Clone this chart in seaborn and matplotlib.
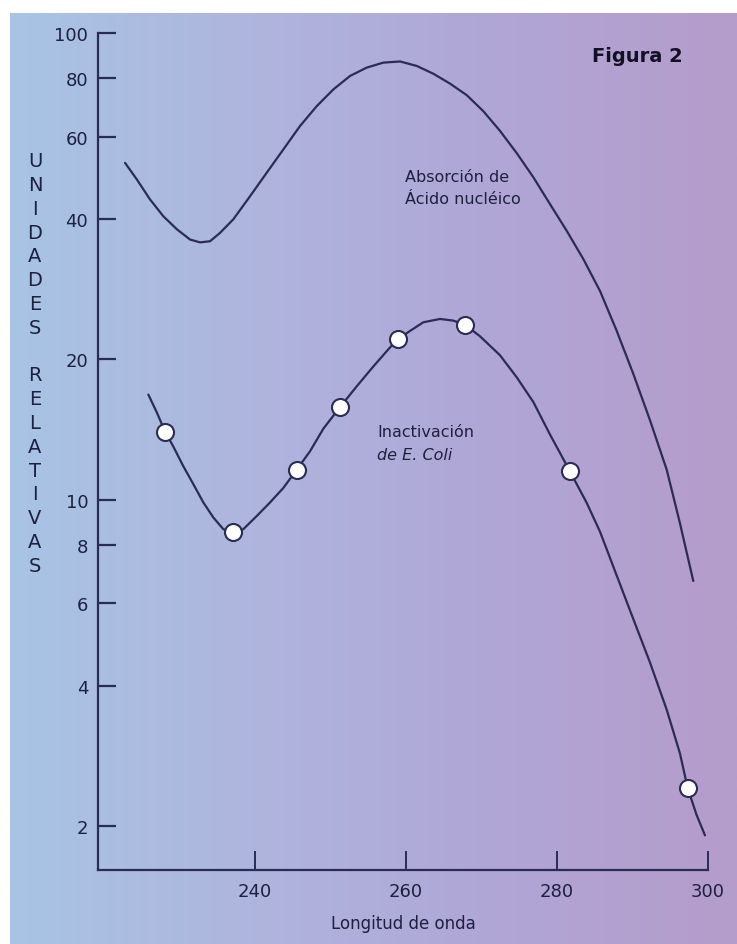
import numpy as np
import pandas as pd
import seaborn as sns
import matplotlib.pyplot as plt
from matplotlib.colors import LinearSegmentedColormap

# absorción de ácido nucleico (curva superior)
abs_x = [222.78, 224.33, 226.09, 227.85, 229.63, 231.39, 232.72, 234.04, 235.36, 237.13,
         239.34, 241.55, 243.75, 245.96, 248.17, 250.37, 252.58, 254.79, 256.99, 259.21,
         261.42, 263.62, 265.83, 268.04, 270.24, 272.45, 274.66, 276.86, 279.07, 281.28,
         283.48, 285.70, 287.91, 290.11, 292.32, 294.53, 296.29, 298.05]
abs_y = [52.7, 48.6, 44.0, 40.5, 38.0, 36.1, 35.6, 35.8, 37.3, 39.9,
         44.7, 50.2, 56.3, 63.2, 69.7, 75.7, 80.9, 84.3, 86.4, 86.9,
         85.0, 81.8, 77.9, 73.6, 68.0, 61.7, 55.3, 49.1, 43.0, 37.7,
         32.8, 28.0, 23.0, 18.6, 14.8, 11.6, 8.9, 6.7]

# inactivación de E. coli (curva inferior)
inact_x = [225.87, 226.98, 228.08, 229.18, 230.50, 231.83, 233.15, 234.48, 235.80, 237.13,
           238.45, 240.23, 241.99, 243.75, 245.52, 247.28, 249.05, 251.26, 253.47, 255.67,
           257.88, 258.98, 260.53, 262.29, 264.50, 266.26, 267.81, 269.80, 272.45, 274.66,
           276.86, 279.07, 281.72, 283.93, 285.70, 287.91, 290.11, 292.32, 294.53, 296.29,
           297.31, 298.50, 299.60]
inact_y = [16.8, 15.4, 14.0, 13.0, 11.8, 10.8, 9.87, 9.16, 8.65, 8.51,
           8.65, 9.23, 9.87, 10.6, 11.6, 12.7, 14.2, 15.8, 17.5, 19.3,
           21.2, 22.1, 23.0, 24.0, 24.4, 24.2, 23.7, 22.4, 20.4, 18.3,
           16.2, 13.8, 11.5, 9.85, 8.54, 6.88, 5.55, 4.48, 3.55, 2.86,
           2.41, 2.11, 1.91]

# puntos medidos
pts_x = [228.08, 237.13, 245.52, 251.26, 258.98, 267.81, 281.72, 297.31]
pts_y = [14.0, 8.51, 11.6, 15.8, 22.1, 23.7, 11.5, 2.41]

x_ticks = [240, 260, 280, 300]
y_ticks = [2, 4, 6, 8, 10, 20, 40, 60, 80, 100]

W, H = 737, 945
ink = "#2a2c55"
txt = "#1e2040"

sns.set_style("ticks")
plt.rcParams['font.family'] = ['DejaVu Sans']

fig = plt.figure(figsize=(W / 100, H / 100), dpi=100)

# fondo degradado azul -> violeta
bg = fig.add_axes([10 / W, 0, (W - 10) / W, (H - 14) / H], zorder=-5)
cmap = LinearSegmentedColormap.from_list(
    "fondo", ["#a8c4e4", "#afb5de", "#b0a6d6", "#b59ccb"])
bg.imshow(np.linspace(0, 1, 256)[None, :], aspect="auto", cmap=cmap,
          extent=[0, 1, 0, 1])
bg.set_axis_off()

ax = fig.add_axes([98 / W, 1 - 871 / H, 610 / W, 837 / H])
ax.set_facecolor("none")

df_abs = pd.DataFrame({"x": abs_x, "y": abs_y})
df_inact = pd.DataFrame({"x": inact_x, "y": inact_y})
df_pts = pd.DataFrame({"x": pts_x, "y": pts_y})

sns.lineplot(data=df_abs, x="x", y="y", ax=ax, color=ink, lw=1.6)
sns.lineplot(data=df_inact, x="x", y="y", ax=ax, color=ink, lw=1.6)
sns.scatterplot(data=df_pts, x="x", y="y", ax=ax, s=150, color="white",
                edgecolor=ink, linewidth=1.5, zorder=5)

ax.set_yscale("log")
ax.set_xlim(219.2, 300)
ax.set_ylim(1.61, 100)
ax.set_xticks(x_ticks)
ax.set_xticklabels([str(v) for v in x_ticks])
ax.set_yticks(y_ticks)
ax.set_yticklabels([str(v) for v in y_ticks])
ax.yaxis.set_minor_locator(plt.NullLocator())

for side in ["top", "right"]:
    ax.spines[side].set_visible(False)
for side in ["left", "bottom"]:
    ax.spines[side].set_color(ink)
    ax.spines[side].set_linewidth(1.6)

ax.tick_params(axis="y", direction="in", length=13, width=1.6, color=ink,
               labelsize=13, labelcolor=txt, pad=7)
ax.tick_params(axis="x", direction="in", length=14, width=1.4, color=ink,
               labelsize=13, labelcolor=txt, pad=9)

ax.set_xlabel("Longitud de onda", fontsize=12, color=txt, labelpad=10)
ax.set_ylabel("")

# etiqueta vertical letra por letra
fig.text(35 / W, 1 - 364 / H, "\n".join("UNIDADES RELATIVAS"),
         ha="center", va="center", fontsize=14, color=txt,
         linespacing=1.32)

fig.text(637 / W, 1 - 57 / H, "Figura 2", ha="center", va="center",
         fontsize=14, fontweight="bold", color="#111122")

fig.text(405 / W, 1 - 182 / H, "Absorción de", ha="left", va="baseline",
         fontsize=11.5, color=txt)
fig.text(405 / W, 1 - 204 / H, "Ácido nucléico", ha="left", va="baseline",
         fontsize=11.5, color=txt)

fig.text(377 / W, 1 - 437 / H, "Inactivación", ha="left", va="baseline",
         fontsize=11.5, color=txt)
fig.text(377 / W, 1 - 460 / H, "de E. Coli", ha="left", va="baseline",
         fontsize=11.5, style="italic", color=txt)

fig.savefig("out.png", dpi=100, facecolor="white")
